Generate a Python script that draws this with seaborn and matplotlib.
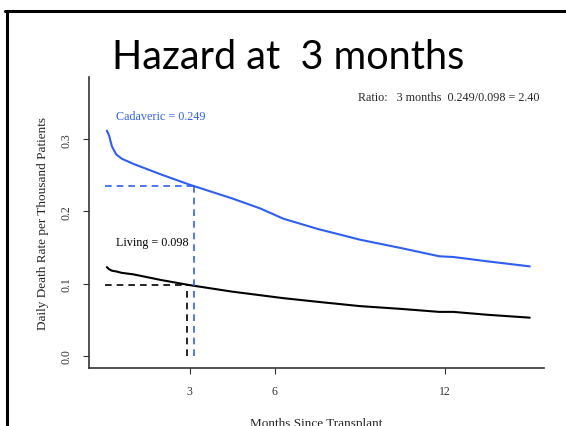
import matplotlib
matplotlib.use('Agg')
import matplotlib.pyplot as plt
from matplotlib.lines import Line2D
import seaborn as sns
import pandas as pd

# Values
months = [0.07, 0.15, 0.25, 0.4, 0.6, 1.0, 2.0, 3.0, 4.5, 5.5, 6.3, 7.5, 9.0, 10.5, 11.8, 12.3, 13.5, 15.0]
cadaveric = [0.312, 0.305, 0.290, 0.279, 0.273, 0.266, 0.251, 0.237, 0.218, 0.204, 0.190, 0.176, 0.161, 0.149, 0.138, 0.137, 0.131, 0.124]
living = [0.123, 0.120, 0.118, 0.117, 0.115, 0.113, 0.105, 0.098, 0.089, 0.084, 0.080, 0.075, 0.069, 0.065, 0.061, 0.061, 0.057, 0.053]

cad_mark = (3.14, 0.235)
liv_mark = (2.9, 0.098)
xticks = [3, 6, 12]
yticks = [0.0, 0.1, 0.2, 0.3]

blue = '#2f5ff2'

sns.set_style('ticks')
plt.rcParams['font.family'] = ['Liberation Serif', 'DejaVu Serif']

df = pd.DataFrame({'Months': months + months,
                   'Rate': cadaveric + living,
                   'Group': ['Cadaveric'] * len(months) + ['Living'] * len(months)})

fig = plt.figure(figsize=(5.66, 4.27), dpi=100)
ax = fig.add_axes([0.157, 0.136, 0.804, 0.681])

sns.lineplot(data=df, x='Months', y='Rate', hue='Group',
             palette={'Cadaveric': blue, 'Living': 'black'},
             linewidth=1.5, legend=False, ax=ax)

# dashed guides at 3 months
ax.plot([0, cad_mark[0]], [cad_mark[1], cad_mark[1]], ls=(0, (4, 3)), color=blue, lw=1.2)
ax.plot([cad_mark[0], cad_mark[0]], [0, cad_mark[1]], ls=(0, (4, 3)), color=blue, lw=1.2)
ax.plot([0, liv_mark[0]], [liv_mark[1], liv_mark[1]], ls=(0, (4, 3)), color='black', lw=1.2)
ax.plot([liv_mark[0], liv_mark[0]], [0, liv_mark[1]], ls=(0, (4, 3)), color='black', lw=1.2)

ax.text(0.39, 0.332, 'Cadaveric = 0.249', color=blue, fontsize=8.7, va='center')
ax.text(0.39, 0.158, 'Living = 0.098', color='black', fontsize=8.7, va='center')
ax.text(0.99, 0.93, 'Ratio:   3 months  0.249/0.098 = 2.40', transform=ax.transAxes,
        ha='right', va='center', fontsize=8.7)

ax.set_xlim(-0.565, 15.5)
ax.set_ylim(-0.0166, 0.386)
ax.set_xticks(xticks)
ax.set_xticklabels([str(t) for t in xticks])
ax.set_yticks(yticks)
ax.set_yticklabels([f'{t:.1f}' for t in yticks], rotation=90, va='center')
ax.tick_params(labelsize=8.5, length=4, width=0.8, colors='#333333', pad=8)
ax.set_xlabel('Months Since Transplant', fontsize=9.5, labelpad=15)
ax.set_ylabel('Daily Death Rate per Thousand Patients', fontsize=9.5, labelpad=8)
sns.despine(ax=ax)
for s in ['left', 'bottom']:
    ax.spines[s].set_linewidth(1.2)
    ax.spines[s].set_color('#333333')

fig.text(0.197, 0.838, 'Hazard at  3 months', family=['Lato', 'DejaVu Sans'],
         fontsize=28.5, va='baseline', ha='left', color='black')

# slide frame
fig.add_artist(Line2D([0.009, 1.0], [0.972, 0.972], color='black', lw=2.2))
fig.add_artist(Line2D([0.012, 0.012], [0.0, 0.972], color='black', lw=2.2))

fig.savefig('out.png', dpi=100)
